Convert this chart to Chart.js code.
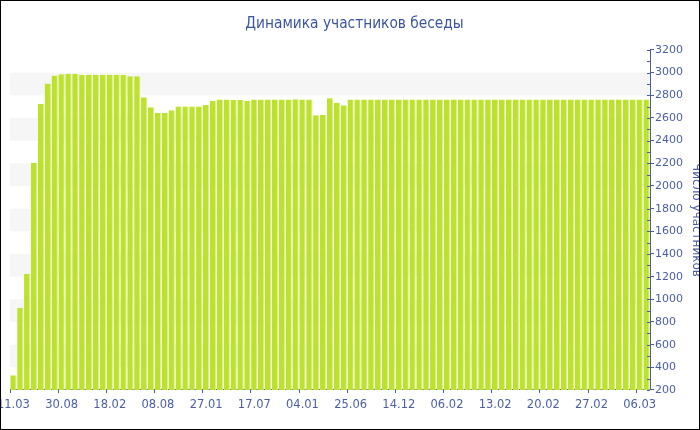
<!DOCTYPE html>
<html>
<head>
<meta charset="utf-8">
<script src="https://cdn.jsdelivr.net/npm/chart.js@4"></script>
<style>
  html, body { margin: 0; padding: 0; background: #fff; }
  #box { width: 700px; height: 430px; box-sizing: border-box; border: 1px solid #000; overflow: hidden; }
  canvas { display: block; }
</style>
</head>
<body>
<div id="box"><canvas id="chart" width="698" height="428"></canvas></div>
<script>
// tick labels shown under every 7th bar
const tickLabels = ["11.03", "30.08", "18.02", "08.08", "27.01", "17.07", "04.01",
                    "25.06", "14.12", "06.02", "13.02", "20.02", "27.02", "06.03"];

// number of chat members, one value per bar
const members = [
  330, 925, 1225, 2205, 2725, 2905, 2975, 2985, 2990, 2990,
  2982, 2982, 2982, 2982, 2982, 2982, 2980, 2967, 2967, 2782,
  2694, 2644, 2644, 2668, 2702, 2702, 2702, 2702, 2715, 2750,
  2762, 2762, 2759, 2759, 2753, 2762, 2762, 2762, 2762, 2762,
  2762, 2765, 2762, 2762, 2624, 2627, 2774, 2735, 2712, 2762,
  2762, 2762, 2762, 2762, 2762, 2762, 2762, 2762, 2762, 2762,
  2762, 2762, 2762, 2762, 2762, 2762, 2762, 2762, 2762, 2762,
  2762, 2762, 2762, 2762, 2762, 2762, 2762, 2762, 2762, 2762,
  2762, 2762, 2762, 2762, 2762, 2762, 2762, 2762, 2762, 2762,
  2762, 2762, 2762
];

const categories = members.map((v, i) => (i % 7 === 0 ? tickLabels[i / 7] : ""));

const BLUE = "#4a5ea8";

// light gray bands every other 200 step + small minor ticks on the right axis
const bandsAndMinorTicks = {
  id: "bandsAndMinorTicks",
  beforeDatasetsDraw(chart) {
    const { ctx, chartArea: a, scales: { y } } = chart;
    ctx.save();
    ctx.fillStyle = "#f6f6f6";
    for (let v = 400; v < 3200; v += 400) {
      const top = y.getPixelForValue(v + 200);
      const bot = y.getPixelForValue(v);
      ctx.fillRect(a.left, top, a.right - a.left, bot - top);
    }
    ctx.restore();
  },
  afterDraw(chart) {
    const { ctx, chartArea: a, scales: { y } } = chart;
    ctx.save();
    ctx.strokeStyle = BLUE;
    ctx.lineWidth = 1;
    for (let v = 200; v <= 3200; v += 100) {
      const py = Math.round(y.getPixelForValue(v)) + 0.5;
      ctx.beginPath();
      ctx.moveTo(a.right - 3, py);
      ctx.lineTo(a.right, py);
      ctx.stroke();
    }
    ctx.restore();
  }
};

new Chart(document.getElementById("chart"), {
  type: "bar",
  data: {
    labels: categories,
    datasets: [{
      data: members,
      backgroundColor: "#bde22e",
      borderColor: "#dcef94",
      borderWidth: { right: 1, left: 0, top: 0, bottom: 0 },
      borderSkipped: false,
      barPercentage: 0.92,
      categoryPercentage: 1
    }]
  },
  options: {
    responsive: false,
    animation: false,
    layout: { padding: { left: 9, right: 0, top: 0, bottom: 0 } },
    plugins: {
      legend: { display: false },
      tooltip: { enabled: false },
      title: {
        display: true,
        text: "Динамика участников беседы",
        color: "#3b55a3",
        font: { family: "'DejaVu Sans Condensed', 'DejaVu Sans', sans-serif", size: 15.3, weight: "normal" },
        padding: { top: 13.5, bottom: 17.1 }
      }
    },
    scales: {
      x: {
        grid: {
          drawOnChartArea: false,
          tickLength: 3,
          tickColor: c => (c.index % 7 === 0 ? BLUE : "rgba(0,0,0,0)")
        },
        border: { color: BLUE },
        ticks: {
          autoSkip: false, maxRotation: 0, minRotation: 0, padding: 5,
          color: BLUE,
          font: { family: "'DejaVu Sans', sans-serif", size: 11.5 }
        },
        afterFit(s) { s.paddingLeft = 0; s.paddingRight = 0; s.height = 39; }
      },
      y: {
        position: "right",
        min: 200, max: 3200,
        ticks: {
          stepSize: 200, padding: 1, color: BLUE,
          font: { family: "'DejaVu Sans', sans-serif", size: 11 },
          callback: v => String(v)
        },
        grid: { drawOnChartArea: false, tickLength: 4, tickColor: BLUE },
        border: { color: BLUE },
        title: {
          display: true,
          text: "Число участников",
          color: BLUE,
          font: { family: "'DejaVu Sans', sans-serif", size: 12 },
          padding: { top: -4, bottom: 0 }
        },
        afterFit(s) { s.width = 49; }
      }
    }
  },
  plugins: [bandsAndMinorTicks]
});
</script>
</body>
</html>
